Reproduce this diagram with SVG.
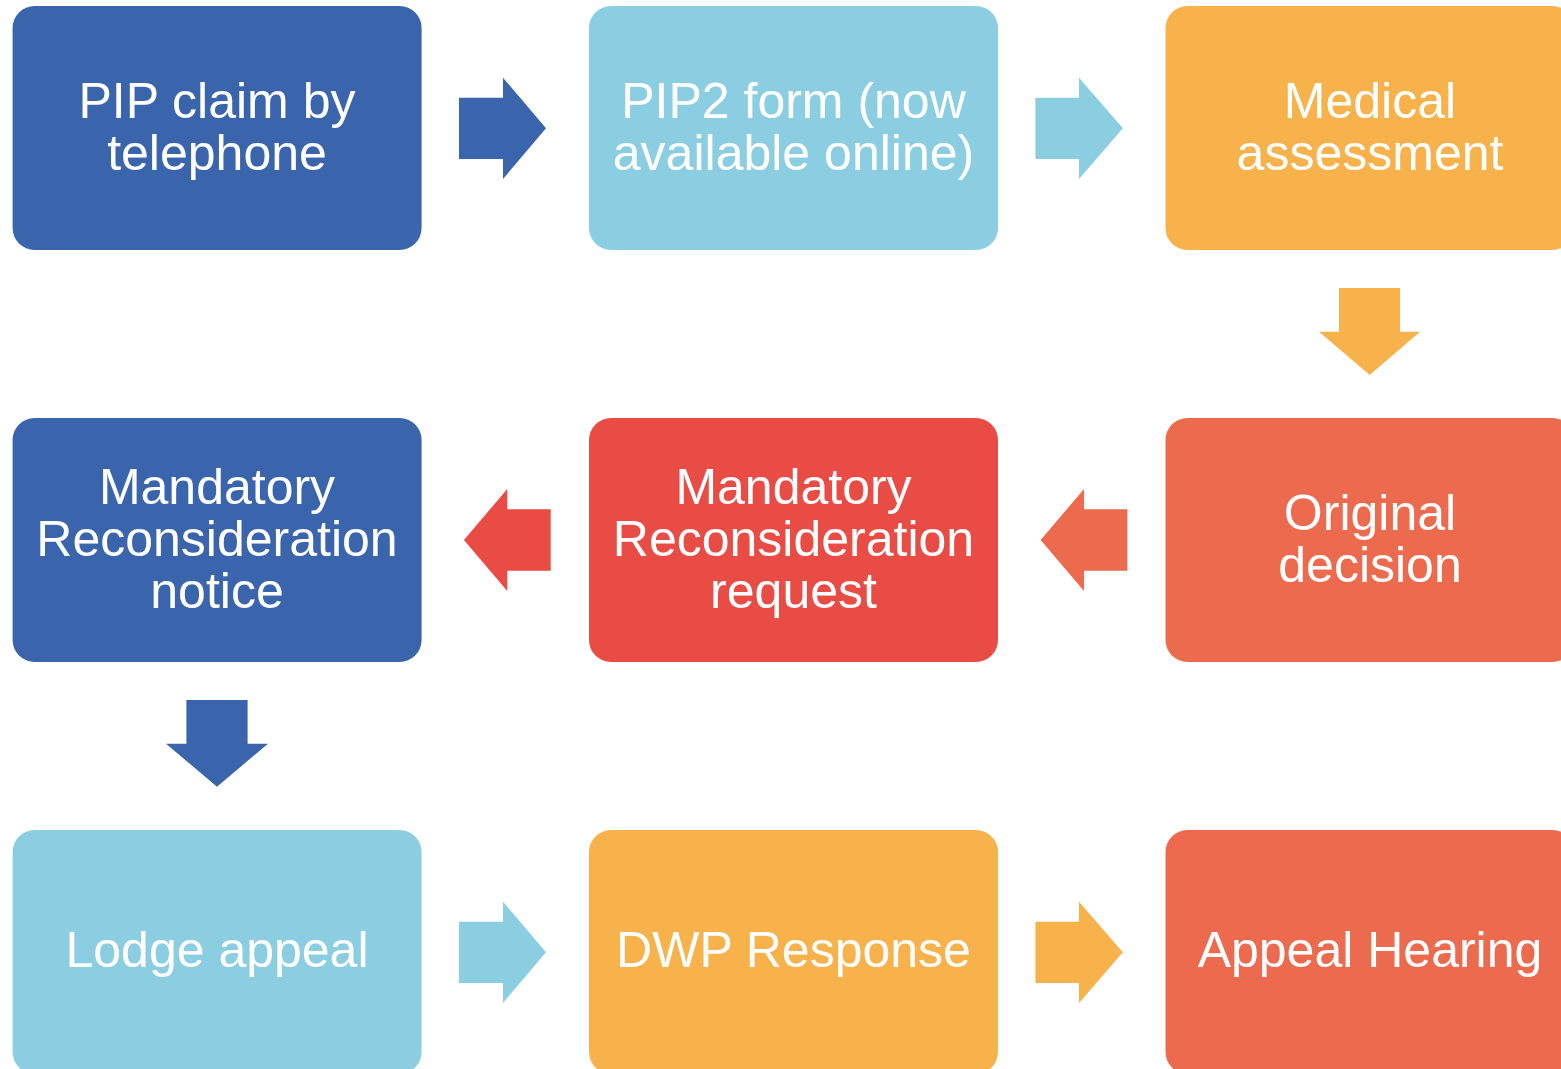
<svg xmlns="http://www.w3.org/2000/svg" width="1561" height="1069" viewBox="0 0 1561 1069">
  <style>
    .lbl { font-family: "Liberation Sans", Arial, sans-serif; font-size: 50px; fill: #FFFFFF; text-anchor: middle; }
    .blue { fill: #3A64AC; }
    .lblue { fill: #8BCEE1; }
    .orange { fill: #F8B24B; }
    .red { fill: #E94B45; }
    .coral { fill: #EC6A4D; }
  </style>
  <rect width="1561" height="1069" fill="#FFFFFF"/>

  <g id="connectors">
    <polygon class="blue" points="459,97.7 503,97.7 503,77.7 546,128.3 503,179 503,159 459,159"/>
    <polygon class="lblue" points="1035.4,97.7 1079,97.7 1079,77.7 1122.9,128.3 1079,179 1079,159 1035.4,159"/>
    <polygon class="orange" points="1339,288 1400,288 1400,331.7 1420,331.7 1369.7,375 1319,331.7 1339,331.7"/>
    <polygon class="coral" points="1127.4,509.3 1084,509.3 1084,489 1040.6,540 1084,591 1084,570.7 1127.4,570.7"/>
    <polygon class="red" points="550.7,509.3 507.3,509.3 507.3,489 463.9,540 507.3,591 507.3,570.7 550.7,570.7"/>
    <polygon class="blue" points="186.4,700 247.6,700 247.6,743.7 268,743.7 217,786.7 166,743.7 186.4,743.7"/>
    <polygon class="lblue" points="459,921.7 503,921.7 503,901.7 546,952.3 503,1003 503,983 459,983"/>
    <polygon class="orange" points="1035.4,921.7 1079,921.7 1079,901.7 1122.9,952.3 1079,1003 1079,983 1035.4,983"/>
  </g>

  <g id="node-pip-claim">
    <rect class="blue" x="12.6" y="6" width="409" height="244" rx="22" ry="22"/>
    <text class="lbl" x="217" y="117.7">PIP claim by</text>
    <text class="lbl" x="217" y="170">telephone</text>
  </g>
  <g id="node-pip2-form">
    <rect class="lblue" x="589" y="6" width="409" height="244" rx="22" ry="22"/>
    <text class="lbl" x="793.5" y="117.7">PIP2 form (now</text>
    <text class="lbl" x="793.5" y="170">available online)</text>
  </g>
  <g id="node-medical">
    <rect class="orange" x="1165.5" y="6" width="409" height="244" rx="22" ry="22"/>
    <text class="lbl" x="1370" y="117.7">Medical</text>
    <text class="lbl" x="1370" y="170">assessment</text>
  </g>
  <g id="node-original-decision">
    <rect class="coral" x="1165.5" y="418" width="409" height="244" rx="22" ry="22"/>
    <text class="lbl" x="1370" y="529.7">Original</text>
    <text class="lbl" x="1370" y="582">decision</text>
  </g>
  <g id="node-mr-request">
    <rect class="red" x="589" y="418" width="409" height="244" rx="22" ry="22"/>
    <text class="lbl" x="793.5" y="503.5">Mandatory</text>
    <text class="lbl" x="793.5" y="555.7">Reconsideration</text>
    <text class="lbl" x="793.5" y="607.9">request</text>
  </g>
  <g id="node-mr-notice">
    <rect class="blue" x="12.6" y="418" width="409" height="244" rx="22" ry="22"/>
    <text class="lbl" x="217" y="503.5">Mandatory</text>
    <text class="lbl" x="217" y="555.7">Reconsideration</text>
    <text class="lbl" x="217" y="607.9">notice</text>
  </g>
  <g id="node-lodge-appeal">
    <rect class="lblue" x="12.6" y="830" width="409" height="244" rx="22" ry="22"/>
    <text class="lbl" x="217" y="967.3">Lodge appeal</text>
  </g>
  <g id="node-dwp-response">
    <rect class="orange" x="589" y="830" width="409" height="244" rx="22" ry="22"/>
    <text class="lbl" x="793.5" y="967.3">DWP Response</text>
  </g>
  <g id="node-appeal-hearing">
    <rect class="coral" x="1165.5" y="830" width="409" height="244" rx="22" ry="22"/>
    <text class="lbl" x="1370" y="967.3">Appeal Hearing</text>
  </g>
</svg>
